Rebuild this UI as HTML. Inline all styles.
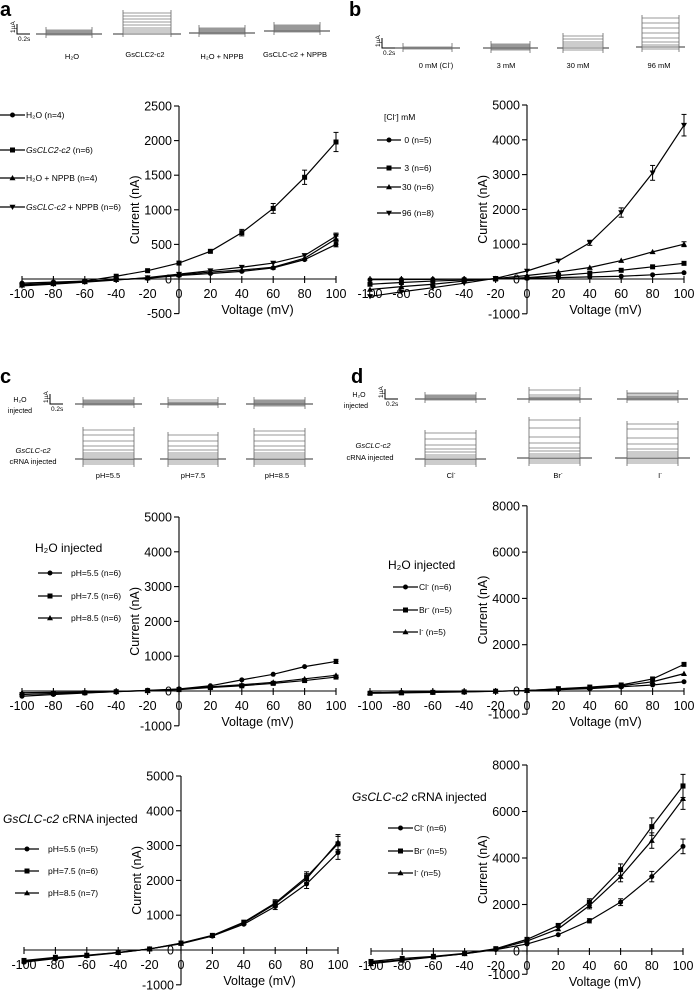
<!DOCTYPE html>
<html><head><meta charset="utf-8">
<style>
html,body{margin:0;padding:0;background:#fff;}
svg{display:block;font-family:"Liberation Sans",Arial,sans-serif;}
</style></head>
<body>
<svg id="fig" width="696" height="991" viewBox="0 0 696 991" xmlns="http://www.w3.org/2000/svg">
<g font-weight="bold" font-size="20">
<text x="0" y="16">a</text>
<text x="349" y="16">b</text>
<text x="0" y="383">c</text>
<text x="351" y="383">d</text>
</g>
<g id="traces"></g>
<g id="charts"></g>
</svg>
<script>
const volts = [-100,-80,-60,-40,-20,0,20,40,60,80,100];
// panel a
const aH2O = [-60,-45,-30,-10,10,50,80,110,160,280,500];
const aGs = [-80,-60,-30,40,120,230,400,670,1020,1470,1980];
const aH2ONppb = [-90,-70,-40,-10,15,60,100,130,170,300,580];
const aGsNppb = [-100,-75,-45,-15,20,70,120,170,230,340,620];
const aYTicks = [-500,0,500,1000,1500,2000,2500];
// panel b
const b0 = [-20,-15,-10,-5,0,20,40,60,80,120,180];
const b3 = [-150,-100,-60,-30,0,40,100,170,250,350,450];
const b30 = [-300,-220,-150,-60,10,100,200,330,530,780,1000];
const b96 = [-500,-370,-250,-120,20,230,520,1040,1910,3050,4420];
const bYTicks = [-1000,0,1000,2000,3000,4000,5000];
// panel c water
const cw55 = [-150,-100,-60,-20,20,60,150,320,480,700,850];
const cw75 = [-100,-70,-50,-20,10,40,100,150,220,300,400];
const cw85 = [-50,-40,-30,-10,10,50,120,180,250,350,450];
// panel c cRNA
const cr55 = [-350,-250,-170,-80,30,180,400,740,1250,1900,2800];
const cr75 = [-300,-210,-150,-70,30,200,420,800,1350,2100,3050];
const cr85 = [-320,-230,-160,-70,30,190,410,780,1320,2050,3100];
const cYTicks = [-1000,0,1000,2000,3000,4000,5000];
// panel d water
const dwCl = [-80,-60,-50,-30,-10,20,60,100,180,260,400];
const dwBr = [-100,-80,-60,-40,-10,20,100,170,260,520,1150];
const dwI = [-70,-60,-40,-30,-10,20,80,140,220,400,750];
// panel d cRNA
const drCl = [-500,-380,-250,-120,60,300,700,1300,2100,3200,4500];
const drBr = [-450,-320,-230,-100,100,500,1100,2100,3500,5350,7100];
const drI = [-550,-400,-260,-120,80,430,950,1950,3200,4750,6550];
const dYTicks = [-1000,0,2000,4000,6000,8000];
const xTicks = [-100,-80,-60,-40,-20,0,20,40,60,80,100];

const NS="http://www.w3.org/2000/svg";
function mk(tag, attrs, parent){const e=document.createElementNS(NS,tag);for(const k in attrs)e.setAttribute(k,attrs[k]);parent.appendChild(e);return e;}

function marker(g, type, x, y){
  let e;
  if(type==='circle'){e=mk('circle',{cx:x,cy:y,r:2.5,fill:'#000'},g);}
  else if(type==='square'){e=mk('rect',{x:x-2.5,y:y-2.5,width:5,height:5,fill:'#000'},g);}
  else if(type==='tri'){e=mk('polygon',{points:`${x},${y-3} ${x-3},${y+2.3} ${x+3},${y+2.3}`,fill:'#000'},g);}
  else {e=mk('polygon',{points:`${x},${y+3} ${x-3},${y-2.3} ${x+3},${y-2.3}`,fill:'#000'},g);}
  return e;
}

function chart(cfg){
  const root=document.getElementById('charts');
  const g=mk('g',{},root);
  
  
  const X=v=>cfg.x0+(v-(-100))/(200)*(cfg.x1-cfg.x0);
  const Y=v=>cfg.yZero-(v)*cfg.ppu;
  const ax=X(0);
  const yMin=cfg.yTicks[0], yMax=cfg.yTicks[cfg.yTicks.length-1];
  const ya=mk('line',{x1:ax,y1:Y(yMax),x2:ax,y2:Y(yMin),stroke:'#000','stroke-width':1.1},g);
  
  
  cfg.yTicks.forEach(t=>{
    mk('line',{x1:ax-5,y1:Y(t),x2:ax,y2:Y(t),stroke:'#000','stroke-width':1.1},g);
    const tx=mk('text',{x:ax-7,y:Y(t)+4.5,'font-size':12.5,'text-anchor':'end'},g);
    tx.textContent=t;
    
    
  });
  const xa=mk('line',{x1:X(-100),y1:Y(0),x2:X(100),y2:Y(0),stroke:'#000','stroke-width':1.1},g);
  
  
  xTicks.forEach(t=>{
    mk('line',{x1:X(t),y1:Y(0)-3,x2:X(t),y2:Y(0)+4,stroke:'#000','stroke-width':1.1},g);
    const tx=mk('text',{x:X(t),y:Y(0)+19,'font-size':12.5,'text-anchor':'middle'},g);
    tx.textContent=t;
    
    
  });
  const xt=mk('text',{x:(ax+X(100))/2,y:Y(0)+35,'font-size':12.5,'text-anchor':'middle'},g);
  xt.textContent='Voltage (mV)';
  
  
  const ycy=(Y(yMax)+Y(yMin))/2;
  const yt=mk('text',{x:0,y:0,'font-size':12.5,'text-anchor':'middle',transform:`translate(${ax-40},${ycy}) rotate(-90)`},g);
  yt.textContent='Current (nA)';
  
  
  cfg.series.forEach(s=>{
    const sg=mk('g',{},g);
    
    
    const pts=s.data.map((v,i)=>X(volts[i])+','+Y(v)).join(' ');
    mk('polyline',{points:pts,fill:'none',stroke:'#000','stroke-width':1.2},sg);
    s.data.forEach((v,i)=>{
      const err=Math.abs(v)*0.07*(i>=7?1:0.6);
      if(err*cfg.ppu>2){
        const x=X(volts[i]);
        mk('line',{x1:x,y1:Y(v+err),x2:x,y2:Y(v-err),stroke:'#000','stroke-width':1},sg);
        mk('line',{x1:x-2.5,y1:Y(v+err),x2:x+2.5,y2:Y(v+err),stroke:'#000','stroke-width':1},sg);
        mk('line',{x1:x-2.5,y1:Y(v-err),x2:x+2.5,y2:Y(v-err),stroke:'#000','stroke-width':1},sg);
      }
      const m=marker(sg,s.mark,X(volts[i]),Y(v));
      
      
    });
  });
  const lg=mk('g',{},g);
  
  
  if(cfg.legTitle){
    const t=mk('text',{x:cfg.legTitle.x,y:cfg.legTitle.y,'font-size':cfg.legTitle.fs},lg);
    t.innerHTML=cfg.legTitle.html;
    
    
  }
  cfg.series.forEach((s,i)=>{
    const y=cfg.legY[i];
    const eg=mk('g',{},lg);
    
    
    mk('line',{x1:cfg.legX,y1:y,x2:cfg.legX+cfg.legW,y2:y,stroke:'#000','stroke-width':1.2},eg);
    marker(eg,s.mark,cfg.legX+cfg.legW/2,y);
    const t=mk('text',{x:cfg.legX+cfg.legW+cfg.legGap,y:y+3,'font-size':cfg.legFs},eg);
    t.innerHTML=s.label;
  });
}

chart({name:'chart-a',x0:22,x1:336,yZero:279,ppu:34.6/500,yTicks:aYTicks,
  series:[{key:'h2o',data:aH2O,mark:'circle',label:'H₂O (n=4)'},
          {key:'gsclc2',data:aGs,mark:'square',label:'<tspan font-style="italic">GsCLC2-c2</tspan> (n=6)'},
          {key:'h2o-nppb',data:aH2ONppb,mark:'tri',label:'H₂O + NPPB (n=4)'},
          {key:'gsclc-nppb',data:aGsNppb,mark:'dtri',label:'<tspan font-style="italic">GsCLC-c2</tspan> + NPPB (n=6)'}],
  legX:0,legW:25,legGap:1,legFs:8.5,legY:[115,150,178,207]});
chart({name:'chart-b',x0:370,x1:684,yZero:279,ppu:34.8/1000,yTicks:bYTicks,
  series:[{key:'0mM',data:b0,mark:'circle',label:'&#160;0 (n=5)'},
          {key:'3mM',data:b3,mark:'square',label:'&#160;3 (n=6)'},
          {key:'30mM',data:b30,mark:'tri',label:'30 (n=6)'},
          {key:'96mM',data:b96,mark:'dtri',label:'96 (n=8)'}],
  legTitle:{x:384,y:120,fs:8.5,html:'[Cl<tspan font-size="6" dy="-3">-</tspan><tspan dy="3">] mM</tspan>'},
  legX:377,legW:24,legGap:1,legFs:8.5,legY:[140,168,187,213]});
chart({name:'chart-c-water',x0:22,x1:336,yZero:691,ppu:34.8/1000,yTicks:cYTicks,
  series:[{key:'ph55',data:cw55,mark:'circle',label:'pH=5.5 (n=6)'},
          {key:'ph75',data:cw75,mark:'square',label:'pH=7.5 (n=6)'},
          {key:'ph85',data:cw85,mark:'tri',label:'pH=8.5 (n=6)'}],
  legTitle:{x:35,y:552,fs:12,html:'H₂O injected'},
  legX:38,legW:24,legGap:9,legFs:8.5,legY:[573,596,618]});
chart({name:'chart-d-water',x0:370,x1:684,yZero:691,ppu:46.3/2000,yTicks:dYTicks,
  series:[{key:'cl',data:dwCl,mark:'circle',label:'Cl<tspan font-size="6" dy="-3">-</tspan><tspan dy="3"> (n=6)</tspan>'},
          {key:'br',data:dwBr,mark:'square',label:'Br<tspan font-size="6" dy="-3">-</tspan><tspan dy="3"> (n=5)</tspan>'},
          {key:'i',data:dwI,mark:'tri',label:'I<tspan font-size="6" dy="-3">-</tspan><tspan dy="3"> (n=5)</tspan>'}],
  legTitle:{x:388,y:569,fs:12,html:'H₂O injected'},
  legX:393,legW:25,legGap:1,legFs:8.5,legY:[587,610,632]});
chart({name:'chart-c-crna',x0:24,x1:338,yZero:950,ppu:34.8/1000,yTicks:cYTicks,
  series:[{key:'ph55',data:cr55,mark:'circle',label:'pH=5.5 (n=5)'},
          {key:'ph75',data:cr75,mark:'square',label:'pH=7.5 (n=6)'},
          {key:'ph85',data:cr85,mark:'tri',label:'pH=8.5 (n=7)'}],
  legTitle:{x:3,y:823,fs:12,html:'<tspan font-style="italic">GsCLC-c2</tspan> cRNA injected'},
  legX:15,legW:24,legGap:9,legFs:8.5,legY:[849,871,893]});
chart({name:'chart-d-crna',x0:371,x1:683,yZero:951,ppu:46.5/2000,yTicks:dYTicks,
  series:[{key:'cl',data:drCl,mark:'circle',label:'Cl<tspan font-size="6" dy="-3">-</tspan><tspan dy="3"> (n=6)</tspan>'},
          {key:'br',data:drBr,mark:'square',label:'Br<tspan font-size="6" dy="-3">-</tspan><tspan dy="3"> (n=5)</tspan>'},
          {key:'i',data:drI,mark:'tri',label:'I<tspan font-size="6" dy="-3">-</tspan><tspan dy="3"> (n=5)</tspan>'}],
  legTitle:{x:352,y:801,fs:12,html:'<tspan font-style="italic">GsCLC-c2</tspan> cRNA injected'},
  legX:388,legW:25,legGap:1,legFs:8.5,legY:[828,851,873]});

// ---- current traces ----
const tr=document.getElementById('traces');
function traceGroup(name,x1,x2,base,offsets,lead){
  const g=mk('g',{},tr);
  
  
  mk('line',{x1:x1-lead,y1:base,x2:x2+lead,y2:base,stroke:'#333','stroke-width':1},g);
  offsets.forEach(o=>{mk('line',{x1:x1,y1:base-o,x2:x2,y2:base-o,stroke:'#777','stroke-width':0.8},g);});
  const top=Math.max(...offsets,2)+3, bot=Math.min(...offsets,0)-3;
  mk('line',{x1:x1,y1:base-top,x2:x1,y2:base-bot,stroke:'#666','stroke-width':0.8},g);
  mk('line',{x1:x2,y1:base-top,x2:x2,y2:base-bot,stroke:'#666','stroke-width':0.8},g);
}
function scaleBar(x,y,name){
  const g=mk('g',{},tr);
  
  
  mk('polyline',{points:`${x},${y-10} ${x},${y} ${x+13},${y}`,fill:'none',stroke:'#000','stroke-width':1},g);
  const t1=mk('text',{x:0,y:0,'font-size':6.5,transform:`translate(${x-2},${y-1}) rotate(-90)`},g);t1.textContent='1µA';
  const t2=mk('text',{x:x+1,y:y+7,'font-size':6.5},g);t2.textContent='0.2s';
}
function label(x,y,txt,name,fs){const t=mk('text',{x:x,y:y,'font-size':fs||7.5,'text-anchor':'middle'},tr);t.innerHTML=txt;}
// a
scaleBar(17,34,'scale-bar-a');
traceGroup('trace-a-h2o',46,92,34,[-1,0,1,2,3,4],10);
traceGroup('trace-a-gsclc2',123,171,34,[0,2,4,6,9,12,15,18,21],10);
traceGroup('trace-a-h2o-nppb',199,245,33,[-1,0,1,2,3,4,5],10);
traceGroup('trace-a-gsclc-nppb',274,320,31,[-1,0,1,2,3,4,5,6],10);
label(72,59,'H₂O','label-h2o');label(145,57,'GsCLC2-c2','label-gsclc2');label(222,59,'H₂O + NPPB','label-h2o-nppb');label(295,57,'GsCLC-c2 + NPPB','label-gsclc-nppb');
// b
scaleBar(382,48,'scale-bar-b');
traceGroup('trace-b-0mm',403,452,48,[-1,0,1],8);
traceGroup('trace-b-3mm',491,530,48,[-2,-1,0,1,2,3,4],8);
traceGroup('trace-b-30mm',563,603,48,[-2,0,2,4,6,9,12],6);
traceGroup('trace-b-96mm',642,679,47,[-2,0,2,5,9,14,19,24,29],6);
label(436,68,'0 mM (Cl<tspan font-size="5" dy="-3">-</tspan><tspan dy="3">)</tspan>','label-0mm');label(506,68,'3 mM','label-3mm');label(578,68,'30 mM','label-30mm');label(659,68,'96 mM','label-96mm');
// c
label(20,402,'H₂O','label-c-h2o',7);label(20,413,'injected','label-c-injected',7);
scaleBar(50,404,'scale-bar-c');
traceGroup('trace-c-h2o-55',83,134,404,[-1,0,1,2,3,4],8);
traceGroup('trace-c-h2o-75',168,218,404,[-1,0,1,2,4],8);
traceGroup('trace-c-h2o-85',254,305,404,[-2,-1,0,1,2,3,4],8);
label(33,453,'<tspan font-style="italic">GsCLC-c2</tspan>','label-c-gsclc',7.5);label(33,464,'cRNA injected','label-c-crna',7.5);
traceGroup('trace-c-crna-55',83,134,459,[-5,-3,-1,0,2,4,6,9,13,18,24,29],8);
traceGroup('trace-c-crna-75',168,218,459,[-5,-3,-1,0,2,4,6,9,13,18,24],8);
traceGroup('trace-c-crna-85',254,305,459,[-5,-3,-1,0,2,4,6,9,13,18,24,28],8);
label(108,478,'pH=5.5','label-ph55');label(193,478,'pH=7.5','label-ph75');label(277,478,'pH=8.5','label-ph85');
// d
label(359,397,'H₂O','label-d-h2o',7);label(356,408,'injected','label-d-injected',7);
scaleBar(385,399,'scale-bar-d');
traceGroup('trace-d-h2o-cl',425,476,399,[-1,0,1,2,3,4],10);
traceGroup('trace-d-h2o-br',529,580,399,[-1,0,1,2,4,9],12);
traceGroup('trace-d-h2o-i',627,678,399,[-1,0,1,2,3,5,6],10);
label(373,448,'<tspan font-style="italic">GsCLC-c2</tspan>','label-d-gsclc',7.5);label(370,460,'cRNA injected','label-d-crna',7.5);
traceGroup('trace-d-crna-cl',425,476,459,[-5,-3,-1,0,2,4,7,10,14,20,26],10);
traceGroup('trace-d-crna-br',529,580,458,[-5,-3,-1,0,2,4,7,10,15,21,30,38],12);
traceGroup('trace-d-crna-i',627,678,458,[-5,-3,-1,0,2,4,6,9,14,20,29,34],12);
label(451,478,'Cl<tspan font-size="5" dy="-3">-</tspan>','label-cl');label(558,478,'Br<tspan font-size="5" dy="-3">-</tspan>','label-br');label(660,478,'I<tspan font-size="5" dy="-3">-</tspan>','label-i');
</script>
</body></html>
